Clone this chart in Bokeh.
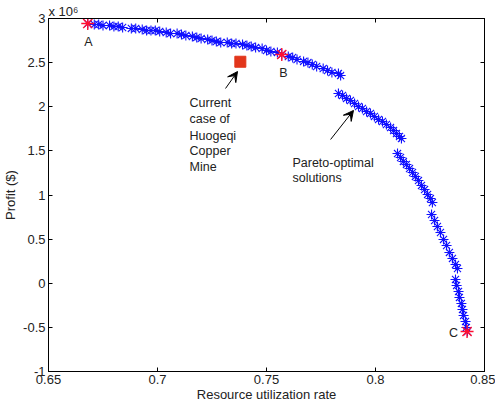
from bokeh.plotting import figure
from bokeh.models import Range1d, FixedTicker, LinearAxis, Label, Arrow, VeeHead, Title
from bokeh.embed import file_html
from bokeh.resources import INLINE

# Pareto-optimal solutions: resource utilization rate vs profit (x 10^6 $)
front_x = [
    0.668, 0.671, 0.673, 0.675, 0.678, 0.680, 0.682, 0.684, 0.688, 0.690,
    0.693, 0.695, 0.697, 0.699, 0.701, 0.704, 0.706, 0.709, 0.711, 0.713,
    0.716, 0.718, 0.720, 0.723, 0.725, 0.727, 0.729, 0.732, 0.734, 0.736,
    0.739, 0.741, 0.743, 0.745, 0.748, 0.750, 0.752, 0.755, 0.757, 0.760,
    0.762, 0.764, 0.767, 0.769, 0.771, 0.773, 0.776, 0.778, 0.780, 0.783,
    0.784,
    0.7830, 0.7849, 0.7867, 0.7885, 0.7904, 0.7922, 0.7940, 0.7959, 0.7977,
    0.7995, 0.8014, 0.8032, 0.8050, 0.8069, 0.8083, 0.8096, 0.8110, 0.8119,
    0.8101, 0.8115, 0.8128, 0.8142, 0.8156, 0.8170, 0.8183, 0.8197, 0.8211,
    0.8225, 0.8239, 0.8252, 0.8261,
    0.8257, 0.8271, 0.8284, 0.8298, 0.8312, 0.8326, 0.8339, 0.8353, 0.8367,
    0.8376,
    0.8367, 0.8372, 0.8381, 0.8385, 0.8394, 0.8399, 0.8404, 0.8413, 0.8417,
    0.8422,
]
front_y = [
    2.943, 2.932, 2.932, 2.921, 2.921, 2.909, 2.909, 2.898, 2.887, 2.887,
    2.875, 2.864, 2.864, 2.864, 2.853, 2.841, 2.830, 2.830, 2.819, 2.807,
    2.796, 2.785, 2.773, 2.762, 2.751, 2.739, 2.728, 2.728, 2.717, 2.717,
    2.705, 2.694, 2.683, 2.671, 2.660, 2.637, 2.626, 2.615, 2.592, 2.569,
    2.558, 2.535, 2.513, 2.501, 2.479, 2.456, 2.433, 2.411, 2.388, 2.377,
    2.354,
    2.150, 2.128, 2.094, 2.071, 2.037, 2.003, 1.980, 1.946, 1.924,
    1.890, 1.856, 1.833, 1.799, 1.765, 1.731, 1.697, 1.663, 1.640,
    1.470, 1.425, 1.380, 1.346, 1.300, 1.255, 1.210, 1.164, 1.108,
    1.062, 1.006, 0.960, 0.915,
    0.779, 0.711, 0.643, 0.575, 0.496, 0.428, 0.349, 0.281, 0.213,
    0.167,
    0.043, -0.025, -0.093, -0.161, -0.229, -0.297, -0.365, -0.433, -0.501,
    -0.547,
]

# Highlighted solutions A, B, C
key_x = [0.668, 0.757, 0.842]
key_y = [2.943, 2.592, -0.547]
key_names = ["A", "B", "C"]

# Current operating case of the mine
current_x = [0.738]
current_y = [2.51]

x_ticks = [0.65, 0.7, 0.75, 0.8, 0.85]
x_tick_labels = ["0.65", "0.7", "0.75", "0.8", "0.85"]
y_ticks = [-1, -0.5, 0, 0.5, 1, 1.5, 2, 2.5, 3]
y_tick_labels = ["-1", "-0.5", "0", "0.5", "1", "1.5", "2", "2.5", "3"]

FONT = "Liberation Sans"
TXT = "#222222"
FS = "13px"
NOTE_FS = "12.5px"

p = figure(
    width=495, height=406, title=None,
    x_range=Range1d(0.65, 0.85), y_range=Range1d(-1, 3),
    output_backend="svg", toolbar_location=None,
    min_border_left=48, min_border_right=11,
    min_border_top=18, min_border_bottom=35,
    background_fill_color="white", border_fill_color="white",
)
p.outline_line_color = "black"
p.outline_line_width = 1
p.xgrid.visible = False
p.ygrid.visible = False

xt = FixedTicker(ticks=x_ticks)
yt = FixedTicker(ticks=y_ticks)

for ax, ticker, ticks, labels in ((p.xaxis[0], xt, x_ticks, x_tick_labels),
                                  (p.yaxis[0], yt, y_ticks, y_tick_labels)):
    ax.ticker = ticker
    ax.major_label_overrides = {t: s for t, s in zip(ticks, labels)}
    ax.major_tick_in = 4
    ax.major_tick_out = 0
    ax.minor_tick_line_color = None
    ax.axis_line_color = "black"
    ax.major_tick_line_color = "black"
    ax.major_label_text_font = FONT
    ax.major_label_text_font_size = FS
    ax.major_label_text_color = TXT
    ax.axis_label_text_font = FONT
    ax.axis_label_text_font_size = FS
    ax.axis_label_text_font_style = "normal"
    ax.axis_label_text_color = TXT

p.xaxis.axis_label = "Resource utilization rate"
p.yaxis.axis_label = "Profit ($)"
p.xaxis.major_label_standoff = 3
p.xaxis.axis_label_standoff = 0
p.yaxis.major_label_standoff = 3
p.yaxis.axis_label_standoff = 2

# Box ticks on the top and right edges (no labels)
for loc, ticker in (("above", xt), ("right", yt)):
    a = LinearAxis(ticker=ticker, major_tick_in=4, major_tick_out=0,
                   minor_tick_line_color=None, axis_line_color="black",
                   major_label_text_font_size="0px",
                   major_label_text_color=None, major_label_standoff=0)
    p.add_layout(a, loc)

# Exponent of the profit axis, top-left above the frame
p.add_layout(Title(text="x 10\u2076", align="left", offset=0, standoff=0,
                   text_font=FONT, text_font_size=FS,
                   text_font_style="normal", text_color=TXT), "above")

# Pareto front
p.scatter(front_x, front_y, marker="asterisk", size=10, line_color="#1010ff",
          line_width=1.1)

# Highlighted solutions
p.scatter(key_x, key_y, marker="asterisk", size=13, line_color="#ff1030",
          line_width=1.4)

# Current case
p.scatter(current_x, current_y, marker="square", size=11,
          fill_color="#e2361b", line_color="#e2361b")

# Letters next to A, B, C
letter_pos = [(0.6683, 2.739), (0.7578, 2.388), (0.8358, -0.569)]
for name, (lx, ly) in zip(key_names, letter_pos):
    p.add_layout(Label(x=lx, y=ly, text=name, text_align="center",
                       text_baseline="middle", text_font=FONT,
                       text_font_size=NOTE_FS, text_color=TXT))

# Annotation texts
current_lines = ["Current", "case of", "Huogeqi", "Copper", "Mine"]
current_ys = [2.037, 1.856, 1.674, 1.493, 1.312]
for t, ly in zip(current_lines, current_ys):
    p.add_layout(Label(x=0.7147, y=ly, text=t, text_align="left",
                       text_baseline="middle", text_font=FONT,
                       text_font_size=NOTE_FS, text_color=TXT))

for t, ly in zip(["Pareto-optimal", "solutions"], [1.368, 1.187]):
    p.add_layout(Label(x=0.7619, y=ly, text=t, text_align="left",
                       text_baseline="middle", text_font=FONT,
                       text_font_size=NOTE_FS, text_color=TXT))

# Arrows
for x0, y0, x1, y1 in ((0.7312, 2.207, 0.7367, 2.399),
                       (0.7794, 1.629, 0.7899, 1.958)):
    p.add_layout(Arrow(x_start=x0, y_start=y0, x_end=x1, y_end=y1,
                       line_color="black", line_width=1,
                       end=VeeHead(size=10, fill_color="black",
                                   line_color="black")))

open("out.html", "w").write(file_html(p, INLINE))
